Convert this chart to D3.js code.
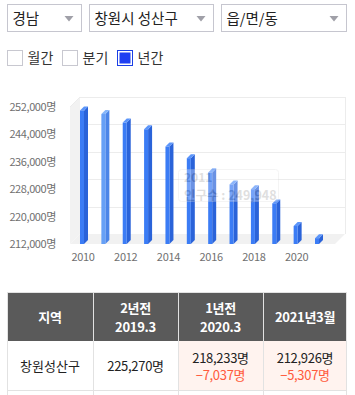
<!DOCTYPE html>
<html><head><meta charset="utf-8">
<script src="https://cdn.jsdelivr.net/npm/d3@7"></script>
<style>
html,body{margin:0;padding:0;background:#fff;}
body{width:355px;height:395px;overflow:hidden;font-family:"Noto Sans CJK KR","Noto Sans",sans-serif;}
</style></head>
<body>
<svg id="c" width="355" height="395"></svg>
<script>
// ---- data ----
const selectLabels = ["경남", "창원시 성산구", "읍/면/동"];
const periodLabels = ["월간", "분기", "년간"];
const periodChecked = [false, false, true];
const years = [2010, 2011, 2012, 2013, 2014, 2015, 2016, 2017, 2018, 2019, 2020, 2021];
const population = [251000, 249948, 247450, 245500, 240450, 237050, 232900, 229400, 228000, 223850, 217250, 213700];
const yTicks = [212000, 220000, 228000, 236000, 244000, 252000];
const xTickYears = [2010, 2012, 2014, 2016, 2018, 2020];
const hoverYear = 2011;
const tableHeaders = [["지역"], ["2년전", "2019.3"], ["1년전", "2020.3"], ["2021년3월"]];
const tableRegion = "창원성산구";
const tableValues = [225270, 218233, 212926];
const tableChanges = [null, -7037, -5307];

const svg = d3.select("#c");
const fmt = d3.format(",");
const FONT = '"Noto Sans CJK KR","Noto Sans",sans-serif';

// ---- selects ----
const selBoxes = [[7.5, 74], [89.5, 124], [221.5, 125]];
selBoxes.forEach((b, i) => {
  const g = svg.append("g");
  g.append("rect").attr("x", b[0]).attr("y", 4.5).attr("width", b[1]).attr("height", 27)
    .attr("fill", "#fff").attr("stroke", "#c6c6cf").attr("stroke-width", 1);
  g.append("text").attr("x", b[0] + 5).attr("y", 23.5).text(selectLabels[i])
    .attr("font-family", FONT).attr("font-size", 14.5).attr("fill", "#222");
  const ax = b[0] + b[1] - 12.5;
  g.append("path").attr("d", `M${ax-4.5},16 L${ax+4.5},16 L${ax},21.5 Z`).attr("fill", "#a0a0a8");
});

// ---- period checkboxes ----
const cbX = [7.5, 62.5, 117.5];
periodLabels.forEach((t, i) => {
  const x = cbX[i];
  if (periodChecked[i]) {
    svg.append("rect").attr("x", x).attr("y", 50.5).attr("width", 15).attr("height", 15)
      .attr("fill", "#fff").attr("stroke", "#1a3fe6").attr("stroke-width", 1);
    svg.append("rect").attr("x", x + 2).attr("y", 52.5).attr("width", 11).attr("height", 11)
      .attr("fill", "#1f3ff2");
  } else {
    svg.append("rect").attr("x", x).attr("y", 50.5).attr("width", 15).attr("height", 15)
      .attr("fill", "#fff").attr("stroke", "#c8c8d0").attr("stroke-width", 1);
  }
  svg.append("text").attr("x", x + 20).attr("y", 63).text(t)
    .attr("font-family", FONT).attr("font-size", 14).attr("fill", "#333");
});

// ---- 3D column chart ----
const DX = 10, DY = -10;           // wall depth
const left = 70, right = 335;
const y = d3.scaleLinear().domain([212000, 252000]).range([244, 107]);
const x = d3.scalePoint().domain(years).range([82, 317]);
const yTop = y(252000), yBot = y(212000);

const chart = svg.append("g");
chart.append("rect").attr("x", left + DX).attr("y", yTop + DY).attr("width", right - left)
  .attr("height", yBot - yTop).attr("fill", "#fff");
chart.append("path")
  .attr("d", `M${left},${yTop} L${left+DX},${yTop+DY} L${left+DX},${yBot+DY} L${left},${yBot} Z`)
  .attr("fill", "#f2f2f2");
chart.append("path")
  .attr("d", `M${left},${yBot} L${left+DX},${yBot+DY} L${right+DX},${yBot+DY} L${right},${yBot} Z`)
  .attr("fill", "#f1f1f1");
chart.selectAll("line.grid").data(yTicks.filter(t => t !== 212000)).join("line")
  .attr("x1", left + DX).attr("x2", right + DX)
  .attr("y1", d => Math.round(y(d) + DY) + 0.5).attr("y2", d => Math.round(y(d) + DY) + 0.5)
  .attr("stroke", "#ececec").attr("stroke-width", 1);
chart.append("line").attr("x1", right + DX + 0.5).attr("x2", right + DX + 0.5)
  .attr("y1", yTop + DY).attr("y2", yBot + DY).attr("stroke", "#ececec");
chart.append("line").attr("x1", left).attr("y1", yTop).attr("x2", left + DX).attr("y2", yTop + DY)
  .attr("stroke", "#ececec");

// y labels
svg.selectAll("text.ylab").data(yTicks).join("text")
  .attr("x", 56).attr("y", d => y(d) + 4).attr("text-anchor", "end")
  .attr("font-family", FONT).attr("font-size", 11).attr("letter-spacing", -0.4)
  .attr("fill", "#707070").text(d => fmt(d) + "명");

// x labels
svg.selectAll("text.xlab").data(xTickYears).join("text")
  .attr("x", d => x(d) + 1).attr("y", 261).attr("text-anchor", "middle")
  .attr("font-family", FONT).attr("font-size", 11).attr("letter-spacing", -0.3)
  .attr("fill", "#707070").text(d => d);

// bars
const BW = 4, BD = 4;
const bars = chart.selectAll("g.bar").data(years.map((yr, i) => ({yr, v: population[i]}))).join("g");
bars.each(function(d) {
  const g = d3.select(this);
  const hot = d.yr === hoverYear;
  const cf = hot ? "#66a0f6" : "#3b7cf5";
  const cs = hot ? "#4b85e8" : "#2a63d9";
  const ct = hot ? "#86b6fa" : "#5b95fa";
  const x0 = x(d.yr) - BW / 2, x1 = x0 + BW;
  const yt = y(d.v), yb = yBot;
  g.append("path").attr("d", `M${x1},${yt} L${x1+BD},${yt-BD} L${x1+BD},${yb-BD} L${x1},${yb} Z`).attr("fill", cs);
  g.append("path").attr("d", `M${x0},${yt} L${x0+BD},${yt-BD} L${x1+BD},${yt-BD} L${x1},${yt} Z`).attr("fill", ct);
  g.append("rect").attr("x", x0).attr("y", yt).attr("width", BW).attr("height", yb - yt).attr("fill", cf);
});

// faint tooltip
const hi = years.indexOf(hoverYear);
const tip = svg.append("g").attr("opacity", 0.3);
tip.append("rect").attr("x", 178.5).attr("y", 169.5).attr("width", 100).attr("height", 32)
  .attr("rx", 3).attr("fill", "#fff").attr("stroke", "#ddd");
tip.append("text").attr("x", 184).attr("y", 181.5).text(hoverYear)
  .attr("font-family", FONT).attr("font-size", 12).attr("font-weight", "bold").attr("fill", "#999");
tip.append("text").attr("x", 184).attr("y", 199.5).text("인구수 : " + fmt(population[hi]))
  .attr("font-family", FONT).attr("font-size", 12.5).attr("font-weight", "bold").attr("fill", "#999");

// ---- table ----
const colX = [7, 93, 178, 263, 347];
const hTop = 292, hBot = 341, rBot = 390;
const tg = svg.append("g");
tg.append("rect").attr("x", colX[0]).attr("y", hTop).attr("width", colX[4] - colX[0]).attr("height", hBot - hTop).attr("fill", "#5a5a5a");
for (let c = 0; c < 4; c++) {
  tg.append("rect").attr("x", colX[c]).attr("y", hBot).attr("width", colX[c+1] - colX[c]).attr("height", rBot - hBot)
    .attr("fill", c >= 2 ? "#fff3ef" : "#fff");
}
tg.append("rect").attr("x", colX[0] + 0.5).attr("y", hTop + 0.5).attr("width", colX[4] - colX[0] - 1).attr("height", 120)
  .attr("fill", "none").attr("stroke", "#e2e2e2");
[1, 2, 3].forEach(c => {
  tg.append("line").attr("x1", colX[c] + 0.5).attr("x2", colX[c] + 0.5).attr("y1", hTop).attr("y2", 395)
    .attr("stroke", "#e2e2e2");
});
tg.append("line").attr("x1", colX[0]).attr("x2", colX[4]).attr("y1", rBot + 0.5).attr("y2", rBot + 0.5).attr("stroke", "#e2e2e2");

tableHeaders.forEach((lines, c) => {
  const cx = (colX[c] + colX[c+1]) / 2;
  const ys = lines.length === 2 ? [312.5, 332] : [322];
  lines.forEach((t, k) => {
    tg.append("text").attr("x", cx).attr("y", ys[k]).attr("text-anchor", "middle").text(t)
      .attr("font-family", FONT).attr("font-size", 13).attr("font-weight", "bold").attr("fill", "#fff")
      .attr("letter-spacing", -0.3);
  });
});
tg.append("text").attr("x", (colX[0] + colX[1]) / 2).attr("y", 371).attr("text-anchor", "middle").text(tableRegion)
  .attr("font-family", FONT).attr("font-size", 13).attr("fill", "#222");
tableValues.forEach((v, i) => {
  const c = i + 1;
  const cx = (colX[c] + colX[c+1]) / 2;
  const ch = tableChanges[i];
  tg.append("text").attr("x", cx).attr("y", ch === null ? 371 : 362.5).attr("text-anchor", "middle").text(fmt(v) + "명")
    .attr("font-family", FONT).attr("font-size", 13).attr("fill", "#222").attr("letter-spacing", -0.3);
  if (ch !== null) {
    tg.append("text").attr("x", cx).attr("y", 380).attr("text-anchor", "middle").text(fmt(ch) + "명")
      .attr("font-family", FONT).attr("font-size", 13).attr("fill", "#ff5a3c").attr("letter-spacing", -0.3);
  }
});
</script>
</body></html>
